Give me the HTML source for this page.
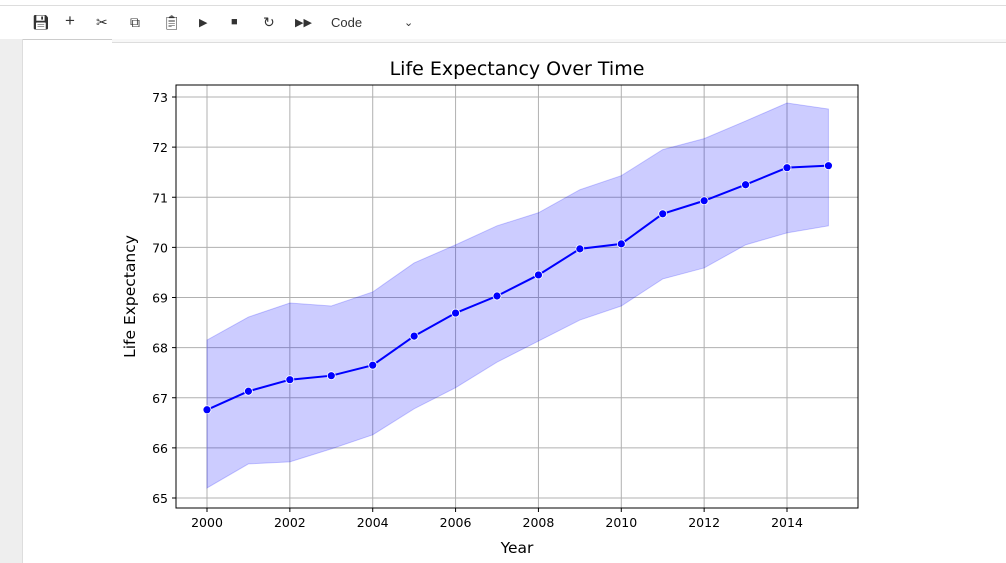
<!DOCTYPE html>
<html><head><meta charset="utf-8"><style>
body{margin:0;width:1006px;height:563px;background:#fff;overflow:hidden;font-family:"Liberation Sans",sans-serif;position:relative}
#toolbar{position:absolute;left:0;top:5px;width:1006px;height:33px;border-top:1px solid #ddd;border-bottom:1px solid #ccc;background:#fff}
.tb{position:absolute;top:8px;font-size:14px;color:#333}
#leftbar{position:absolute;left:0;top:39px;width:22px;height:524px;background:#eee;border-right:1px solid #ddd}
#cellline{position:absolute;left:112px;top:39px;width:894px;height:3px;border-bottom:1px solid #ddd;background:#f7f7f7}
svg text{font-family:"DejaVu Sans",sans-serif}
</style></head><body>
<div id="toolbar">
<span class="tb" style="left:32px">💾︎</span>
<span class="tb" style="left:65px;font-size:17px;top:5px">+</span>
<span class="tb" style="left:96px">✂</span>
<span class="tb" style="left:130px">⧉</span>
<span class="tb" style="left:163px">📋︎</span>
<span class="tb" style="left:199px;font-size:11px;top:10px">▶</span>
<span class="tb" style="left:231px;font-size:11px;top:10px">■</span>
<span class="tb" style="left:263px">↻</span>
<span class="tb" style="left:295px;font-size:11px;top:10px">▶▶</span>
<span class="tb" style="left:331px;font-size:13px;top:9px">Code</span>
<span class="tb" style="left:404px;font-size:11px;top:10px">⌄</span>
</div>
<div id="leftbar"></div>
<div id="cellline"></div>
<svg id="chart" width="1006" height="563" style="position:absolute;left:0;top:0"></svg>
<script>
const years=[2000,2001,2002,2003,2004,2005,2006,2007,2008,2009,2010,2011,2012,2013,2014,2015];
const meanVals=[66.76,67.13,67.36,67.44,67.65,68.23,68.69,69.03,69.45,69.97,70.07,70.67,70.93,71.25,71.59,71.63];
const upperVals=[68.15,68.61,68.89,68.83,69.11,69.69,70.05,70.43,70.69,71.15,71.43,71.95,72.17,72.52,72.88,72.76];
const lowerVals=[65.2,65.68,65.72,65.98,66.26,66.78,67.2,67.71,68.13,68.55,68.83,69.37,69.59,70.05,70.29,70.43];
const xTicks=[2000,2002,2004,2006,2008,2010,2012,2014];
const yTicks=[65,66,67,68,69,70,71,72,73];
const L=176,R=858,T=85,B=508;
const X=v=>207+(v-2000)*(580/14);
const Y=v=>498-(v-65)*(401/8);
const NS='http://www.w3.org/2000/svg',svg=document.getElementById('chart');
function mk(tag,attrs,parent){const e=document.createElementNS(NS,tag);for(const k in attrs)e.setAttribute(k,attrs[k]);(parent||svg).appendChild(e);return e;}
xTicks.forEach(t=>{
 const g=mk('line',{x1:X(t),x2:X(t),y1:T,y2:B,stroke:'#b0b0b0','stroke-width':1});
 
 
 mk('line',{x1:X(t),x2:X(t),y1:B,y2:B+4,stroke:'#000'});
 const tx=mk('text',{x:X(t),y:B+19,'text-anchor':'middle','font-size':12.5,fill:'#000'});tx.textContent=t;
 
 
});
yTicks.forEach(t=>{
 const g=mk('line',{x1:L,x2:R,y1:Y(t),y2:Y(t),stroke:'#b0b0b0','stroke-width':1});
 
 
 mk('line',{x1:L-4,x2:L,y1:Y(t),y2:Y(t),stroke:'#000'});
 const tx=mk('text',{x:L-8,y:Y(t)+5,'text-anchor':'end','font-size':12.5,fill:'#000'});tx.textContent=t;
 
 
});
let d='M'+years.map((y,i)=>X(y)+','+Y(upperVals[i])).join('L');
for(let i=years.length-1;i>=0;i--)d+='L'+X(years[i])+','+Y(lowerVals[i]);
const band=mk('path',{d:d+'Z',fill:'rgba(0,0,255,0.2)',stroke:'rgba(0,0,255,0.2)'});


const line=mk('polyline',{points:years.map((y,i)=>X(y)+','+Y(meanVals[i])).join(' '),fill:'none',stroke:'#0000ff','stroke-width':2});


years.forEach((y,i)=>{
 const c=mk('circle',{cx:X(y),cy:Y(meanVals[i]),r:4,fill:'#0000ff',stroke:'#fff','stroke-width':0.8});
 
 
});
const fr=mk('rect',{x:L,y:T,width:R-L,height:B-T,fill:'none',stroke:'#000','stroke-width':1});


const ti=mk('text',{x:(L+R)/2,y:75,'text-anchor':'middle','font-size':19,fill:'#000'});ti.textContent='Life Expectancy Over Time';


const xl=mk('text',{x:(L+R)/2,y:553,'text-anchor':'middle','font-size':15.5,fill:'#000'});xl.textContent='Year';


const yl=mk('text',{x:0,y:0,'text-anchor':'middle','font-size':15.5,fill:'#000',transform:'translate(135,'+((T+B)/2)+') rotate(-90)'});yl.textContent='Life Expectancy';


</script>
</body></html>
